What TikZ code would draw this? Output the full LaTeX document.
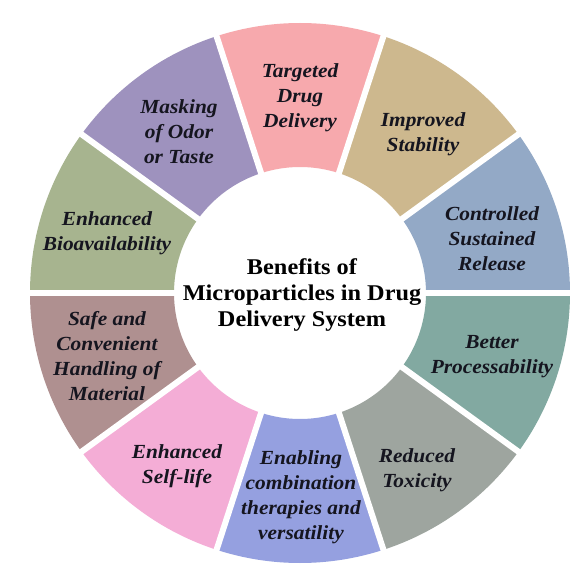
\documentclass[tikz,border=0pt]{standalone}
\usepackage{fontspec}
\setmainfont{Liberation Serif}
\newfontfamily\labfont[FakeStretch=1.07]{Liberation Serif}
\newfontfamily\titfont[FakeStretch=1.08]{Liberation Serif}
\definecolor{cCtrl}{HTML}{93A9C6}
\definecolor{cImpr}{HTML}{CDB88E}
\definecolor{cTarg}{HTML}{F7A9AD}
\definecolor{cMask}{HTML}{9E92BE}
\definecolor{cBio}{HTML}{A7B48F}
\definecolor{cSafe}{HTML}{AF9090}
\definecolor{cSelf}{HTML}{F4ADD6}
\definecolor{cEnab}{HTML}{95A0E0}
\definecolor{cRed}{HTML}{9EA59F}
\definecolor{cBett}{HTML}{82A9A1}
\definecolor{labtext}{HTML}{15151F}
\begin{document}
\begin{tikzpicture}[x=1pt,y=1pt,
  lab/.style={font=\labfont\fontsize{20}{25}\selectfont\bfseries\itshape, align=center, text=labtext, inner sep=0pt},
  title/.style={font=\titfont\fontsize{22.5}{26}\selectfont\bfseries, align=center, text=black, inner sep=0pt},
  gap/.style={white, line width=6pt}]
\useasboundingbox[fill=white] (-300,-283) rectangle (282,293);
\foreach \a/\c in {0/cCtrl,36/cImpr,72/cTarg,108/cMask,144/cBio,180/cSafe,216/cSelf,252/cEnab,288/cRed,324/cBett}{
  \pgfmathsetmacro{\b}{\a+36}
  \fill[\c] (\a:270) arc[start angle=\a, end angle=\b, radius=270] -- (\b:126) arc[start angle=\b, end angle=\a, radius=126] -- cycle;
}
\foreach \a in {0,36,...,324}{
  \draw[gap] (\a:120) -- (\a:276);
}
\node[title] (center) at (2,-2) {Benefits of\\Microparticles in Drug\\Delivery System};
\node[lab] (targ) at (0,195) {Targeted\\Drug\\Delivery};
\node[lab] (impr) at (123,159) {Improved\\Stability};
\node[lab] (ctrl) at (192,54) {Controlled\\Sustained\\Release};
\node[lab] (bett) at (192,-64) {Better\\Processability};
\node[lab] (red) at (117,-177) {Reduced\\Toxicity};
\node[lab] (enab) at (1,-204) {Enabling\\combination\\therapies and\\versatility};
\node[lab] (self) at (-123,-173) {Enhanced\\Self-life};
\node[lab] (safe) at (-193,-63) {Safe and\\Convenient\\Handling of\\Material};
\node[lab] (bio) at (-193,60) {Enhanced\\Bioavailability};
\node[lab] (mask) at (-121,161) {Masking\\of Odor\\or Taste};
\end{tikzpicture}
\end{document}
